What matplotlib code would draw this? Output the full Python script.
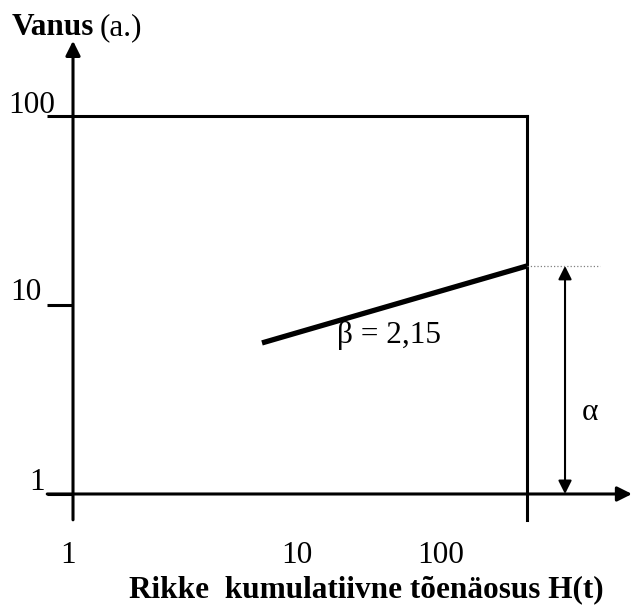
import matplotlib.pyplot as plt

# schematic Weibull plot (log-log)
y_ticks = [1, 10, 100]
y_tick_labels = ['1', '10', '100']
x_tick_labels = ['1', '10', '100']
H_line = [6.8, 100]
age_line = [6.3, 16.1]
beta_text = 'β = 2,15'
alpha_text = 'α'

# label placement (data coords, hand-placed like the sketch)
y_label_x = [0.753, 0.73, 0.833]
y_label_y = [1.05, 10.6, 103.7]
x_label_x = [0.95, 9.7, 41.5]

plt.rcParams['font.family'] = ['Liberation Serif', 'DejaVu Serif']

fig = plt.figure(figsize=(6.36, 6.07), dpi=100)
ax = fig.add_axes([0, 0, 1, 1])
ax.set_xscale('log')
ax.set_yscale('log')
ax.set_xlim(10 ** -0.3216, 10 ** 2.48)
ax.set_ylim(10 ** -0.598, 10 ** 2.614)
ax.axis('off')

lw = 2.2
# y axis with arrow
ax.annotate('', xy=(1, 250), xytext=(1, 0.73),
            arrowprops=dict(arrowstyle='-|>', lw=lw, color='black',
                            mutation_scale=22, shrinkA=0, shrinkB=0))
# x axis with arrow
ax.annotate('', xy=(290, 1), xytext=(0.77, 1),
            arrowprops=dict(arrowstyle='-|>', lw=lw, color='black',
                            mutation_scale=22, shrinkA=0, shrinkB=0))
# y tick marks
for v in y_ticks:
    ax.plot([0.77, 1], [v, v], color='black', lw=lw, solid_capstyle='butt')
# frame top and right
ax.plot([1, 100], [100, 100], color='black', lw=lw)
ax.plot([100, 100], [100, 0.73], color='black', lw=lw)

# fitted line
ax.plot(H_line, age_line, color='black', lw=3.8, solid_capstyle='butt')
# dotted line at alpha level
ax.plot([100, 210], [age_line[1], age_line[1]], color='gray', lw=0.9, ls=':')
# alpha double arrow
ax.annotate('', xy=(147, age_line[1]), xytext=(147, 1),
            arrowprops=dict(arrowstyle='<|-|>', lw=1.5, color='black',
                            mutation_scale=20, shrinkA=0, shrinkB=0))

fs = 22.5
ax.text(14.6, 6.9, beta_text, fontsize=fs, ha='left', va='center')
ax.text(190, 2.7, alpha_text, fontsize=fs, ha='center', va='center')

for xv, yv, lab in zip(y_label_x, y_label_y, y_tick_labels):
    ax.text(xv, yv, lab, fontsize=fs, ha='right', va='baseline')
for xv, lab in zip(x_label_x, x_tick_labels):
    ax.text(xv, 0.43, lab, fontsize=fs, ha='center', va='baseline')

fig.text(366 / 636, 1 - 597 / 607, 'Rikke  kumulatiivne tõenäosus H(t)',
         fontsize=fs, fontweight='bold', ha='center', va='baseline')
fig.text(12 / 636, 1 - 35 / 607, 'Vanus', fontsize=fs, fontweight='bold',
         ha='left', va='baseline')
fig.text(100 / 636, 1 - 35 / 607, '(a.)', fontsize=fs, ha='left', va='baseline')

fig.savefig('out.png', dpi=100)
